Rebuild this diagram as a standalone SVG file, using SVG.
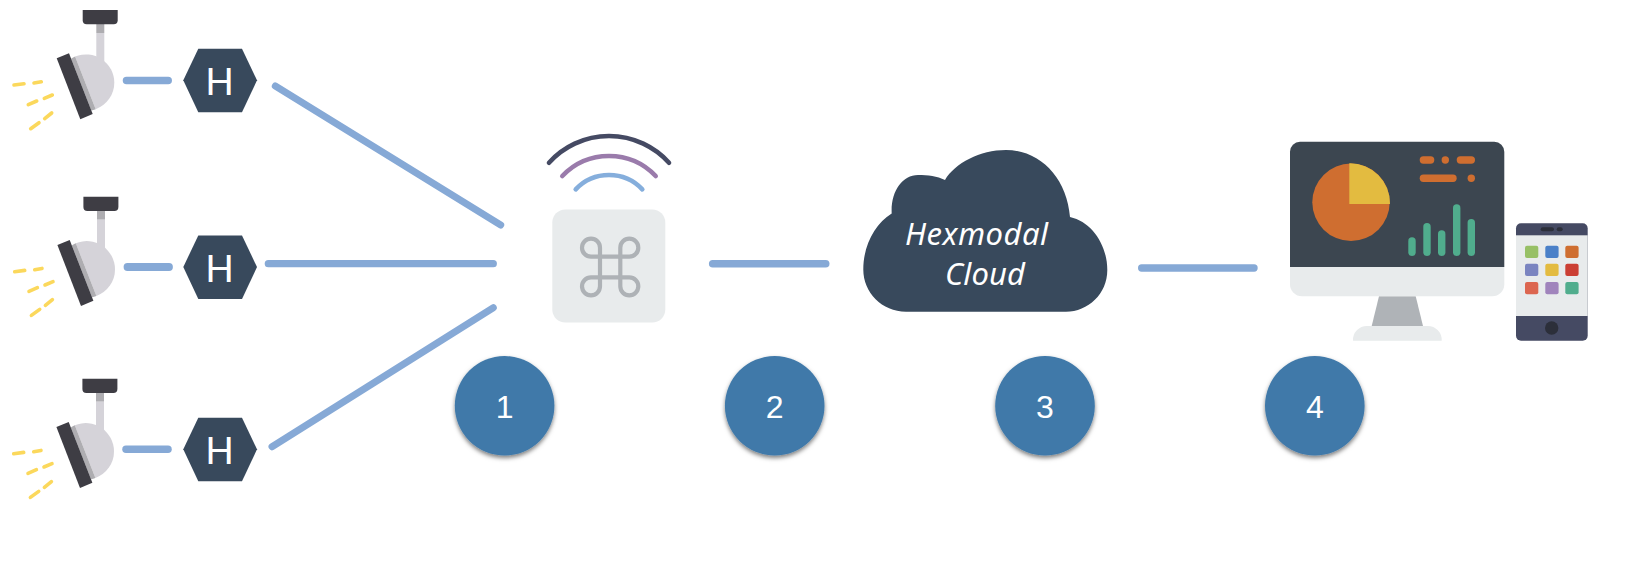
<svg xmlns="http://www.w3.org/2000/svg" xmlns:xlink="http://www.w3.org/1999/xlink" width="1638" height="566" viewBox="0 0 1638 566">
<style>
.link{fill:none;stroke:#86a9d6;stroke-linecap:round}
.ray{fill:none;stroke:#fbd85c;stroke-width:3.6;stroke-linecap:round}
.hex{fill:#38495c}
.hext{font-family:"Liberation Sans",Arial,sans-serif;font-size:39px;fill:#fff;text-anchor:middle}
.num{font-family:"Liberation Sans",Arial,sans-serif;font-size:32px;fill:#fff;text-anchor:middle}
.badge{fill:#4079a9;filter:url(#sh)}
.cloudt{font-family:"Noto Sans","Open Sans",sans-serif;font-style:italic;font-size:31px;fill:#fff}
.wifi{fill:none;stroke-linecap:round;stroke-width:4.6}
.light{fill:#e8ebec}
.org{fill:#cf6e30}
.grn{fill:#50ad8d}
</style>
<defs>
<filter id="sh" x="-20%" y="-20%" width="140%" height="140%"><feDropShadow dx="0" dy="2.5" stdDeviation="2" flood-color="#000" flood-opacity="0.5"/></filter>
<g id="lamp">
<rect x="96.3" y="24" width="8" height="9" fill="#aeadb1"/>
<rect x="96.3" y="33" width="8" height="30" fill="#d5d3d9"/>
<path d="M82.7 10H117.7V20.3A4 4 0 0 1 113.7 24.3H86.7A4 4 0 0 1 82.7 20.3Z" fill="#3e3d44"/>
<path d="M75.1 56.6A28.3 28.3 0 0 1 114.3 82.7A28.3 28.3 0 0 1 95.7 109.2Z" fill="#d5d3d9"/>
<path d="M71.1 58.7A28.3 28.3 0 0 1 75.1 56.6L95.7 109.2A28.3 28.3 0 0 1 91.3 110.5Z" fill="#aeadb1"/>
<polygon points="56.7,58.3 69,53.3 92.7,114 80.3,119.3" fill="#3e3d44"/>
<path class="ray" d="M14 85L24 83.7M34 83L41.3 81.7M28.3 104.7L36.7 101M44.3 98.3L52.3 95M30.7 128.7L39 122.7M44.7 118.7L51.7 113"/>
</g>
<polygon id="hexshape" class="hex" points="183.3,80.3 198.3,48.7 242,48.7 257,80.3 242,112.3 198.3,112.3"/>
</defs>
<g id="connectors">
<line class="link" stroke-width="7.5" x1="126.5" y1="80.5" x2="168.2" y2="80.5"/>
<line class="link" stroke-width="7.8" x1="127.5" y1="267" x2="169" y2="267"/>
<line class="link" stroke-width="7.5" x1="126" y1="449.3" x2="168" y2="449.3"/>
<line class="link" stroke-width="7" x1="275.3" y1="86" x2="500.7" y2="225"/>
<line class="link" stroke-width="7.2" x1="268.3" y1="263.7" x2="493.3" y2="263.7"/>
<line class="link" stroke-width="7" x1="272" y1="446.7" x2="493.3" y2="307.7"/>
<line class="link" stroke-width="7.6" x1="712.7" y1="263.7" x2="825.7" y2="263.7"/>
<line class="link" stroke-width="7.4" x1="1141.7" y1="268" x2="1254" y2="268"/>
</g>
<g id="lamp-1"><use href="#lamp"/></g>
<g id="lamp-2" transform="translate(0.7 186.7)"><use href="#lamp"/></g>
<g id="lamp-3" transform="translate(-0.3 368.7)"><use href="#lamp"/></g>
<g id="hex-1"><use href="#hexshape"/><text class="hext" x="219.5" y="95">H</text></g>
<g id="hex-2" transform="translate(0 186.7)"><use href="#hexshape"/><text class="hext" x="219.5" y="95">H</text></g>
<g id="hex-3" transform="translate(0 369)"><use href="#hexshape"/><text class="hext" x="219.5" y="95">H</text></g>
<g id="gateway">
<rect class="light" x="552.3" y="209.5" width="113" height="113" rx="13"/>
<path d="M600 286.3V247.7A9 9 0 1 0 591 256.7H629.3A9 9 0 1 0 620.3 247.7V286.3A9 9 0 1 0 629.3 277.3H591A9 9 0 1 0 600 286.3Z" fill="none" stroke="#aeb2b6" stroke-width="4.2"/>
<path class="wifi" stroke="#454a63" d="M549 162.7A80.8 80.8 0 0 1 669 162.7"/>
<path class="wifi" stroke="#9a7bab" d="M562.3 176A64.5 64.5 0 0 1 655.7 176"/>
<path class="wifi" stroke="#85aedc" d="M575.7 189.3A45.9 45.9 0 0 1 642.3 189.3"/>
</g>
<g id="cloud">
<path d="M906 311.7C882 311.7 863.3 292.5 863.3 269.5C863.3 245 875 224 891.7 213.5C890.5 192 902 175 918 175C928 175 937 176 945 180C955 163 980 150 1006 150C1040 150 1067 178 1070 217C1092 222 1107.3 245 1107.3 270C1107.3 294 1088 311.7 1066 311.7Z" fill="#38495c"/>
<text class="cloudt" x="905" y="245" textLength="143">Hexmodal</text>
<text class="cloudt" x="945" y="285" textLength="80">Cloud</text>
</g>
<g id="dashboard">
<path d="M1379 296.3H1415.7L1423 326H1371.7Z" fill="#afb3b7"/>
<path class="light" d="M1353 340.7A14 14 0 0 1 1367 326H1427.7A14 14 0 0 1 1441.7 340.7Z"/>
<path d="M1290 267V151.7A10 10 0 0 1 1300 141.7H1494.3A10 10 0 0 1 1504.3 151.7V267Z" fill="#3c4650"/>
<path class="light" d="M1290 267H1504.3V284.3A12 12 0 0 1 1492.3 296.3H1302A12 12 0 0 1 1290 284.3Z"/>
<circle class="org" cx="1351" cy="202.3" r="38.7"/>
<path d="M1349.3 204V163.3A40 40 0 0 1 1390 204Z" fill="#e3bb40"/>
<rect class="org" x="1419.7" y="156.3" width="14.6" height="7.4" rx="3.7"/>
<circle class="org" cx="1445.3" cy="160" r="3.7"/>
<rect class="org" x="1456.7" y="156.3" width="18.3" height="7.4" rx="3.7"/>
<rect class="org" x="1419.7" y="174.6" width="37" height="7.4" rx="3.7"/>
<circle class="org" cx="1471.3" cy="178.3" r="3.7"/>
<rect class="grn" x="1408.3" y="237.3" width="7.4" height="18.7" rx="3.7"/>
<rect class="grn" x="1423.3" y="223" width="7.4" height="33" rx="3.7"/>
<rect class="grn" x="1438" y="230.3" width="7.4" height="25.7" rx="3.7"/>
<rect class="grn" x="1453" y="204.3" width="7.4" height="51.7" rx="3.7"/>
<rect class="grn" x="1467.6" y="219" width="7.4" height="37" rx="3.7"/>
</g>
<g id="phone">
<rect x="1516" y="223.3" width="71.7" height="117.4" rx="5" fill="#454a63"/>
<rect class="light" x="1516" y="235.3" width="71.7" height="80.7"/>
<rect x="1540.7" y="227.3" width="13.3" height="4" rx="2" fill="#2c2f3a"/>
<rect x="1556.7" y="227.3" width="6" height="4" rx="2" fill="#2c2f3a"/>
<circle cx="1551.7" cy="328" r="6.7" fill="#2c2f3a"/>
<rect x="1525" y="245.7" width="13.3" height="12.3" rx="2" fill="#97c066"/>
<rect x="1545.3" y="245.7" width="13.3" height="12.3" rx="2" fill="#4a80c8"/>
<rect x="1565.3" y="245.7" width="13.3" height="12.3" rx="2" fill="#cf6e30"/>
<rect x="1525" y="263.7" width="13.3" height="12.3" rx="2" fill="#7a84c0"/>
<rect x="1545.3" y="263.7" width="13.3" height="12.3" rx="2" fill="#e3bb40"/>
<rect x="1565.3" y="263.7" width="13.3" height="12.3" rx="2" fill="#cb3f34"/>
<rect x="1525" y="282" width="13.3" height="12.3" rx="2" fill="#dc6650"/>
<rect x="1545.3" y="282" width="13.3" height="12.3" rx="2" fill="#a084bc"/>
<rect x="1565.3" y="282" width="13.3" height="12.3" rx="2" fill="#50ad8d"/>
</g>
<g id="step-1"><circle class="badge" cx="504.6" cy="405.8" r="49.8"/><text class="num" x="504.6" y="418">1</text></g>
<g id="step-2"><circle class="badge" cx="774.7" cy="405.8" r="49.8"/><text class="num" x="774.7" y="418">2</text></g>
<g id="step-3"><circle class="badge" cx="1045" cy="405.8" r="49.8"/><text class="num" x="1045" y="418">3</text></g>
<g id="step-4"><circle class="badge" cx="1314.8" cy="405.8" r="49.8"/><text class="num" x="1314.8" y="418">4</text></g>
</svg>
